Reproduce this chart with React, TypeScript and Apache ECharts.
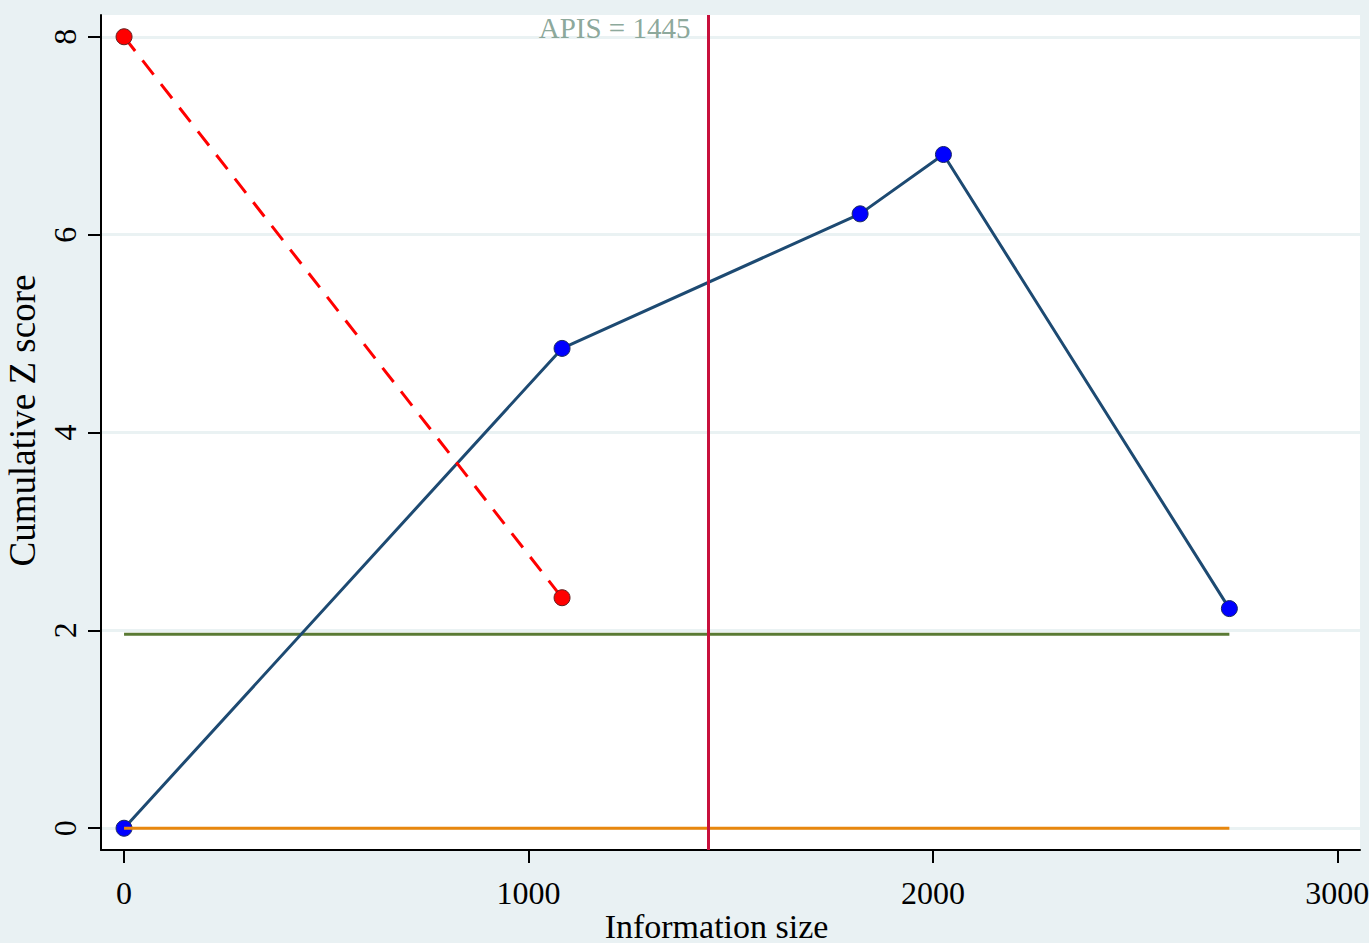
import React, { useEffect, useRef } from "react";
import * as echarts from "echarts";

const xTicks = [0, 1000, 2000, 3000];
const yTicks = [0, 2, 4, 6, 8];
const infoSize = [0, 1083, 1820, 2026, 2733];
const cumZ = [0, 4.85, 6.21, 6.81, 2.22];
const redInfo = [0, 1083];
const redZ = [8, 2.33];
const boundaryZ = 1.96;
const nullZ = 0;
const boundaryEnd = 2733;
const apis = 1445;
const apisLabel = "APIS = 1445";

const X_MIN = -57;
const X_MAX = 3056;
const Y_MIN = -0.22;
const Y_MAX = 8.22;

const FONT = "Liberation Serif";

export default function App() {
  const ref = useRef<HTMLDivElement>(null);
  useEffect(() => {
    if (!ref.current) return;
    const chart = echarts.init(ref.current, undefined, { renderer: "svg" });
    const option: any = {
      animation: false,
      backgroundColor: "#e9f1f3",
      textStyle: { fontFamily: FONT },
      grid: {
        left: 101,
        top: 15,
        right: 9,
        bottom: 93,
        show: true,
        backgroundColor: "#ffffff",
        borderWidth: 0,
        containLabel: false,
        outerBoundsMode: "none",
      },
      xAxis: {
        type: "value",
        min: X_MIN,
        max: X_MAX,
        name: "Information size",
        nameLocation: "middle",
        nameGap: 62,
        nameMoveOverlap: false,
        nameTextStyle: {
          fontFamily: FONT,
          fontSize: 34,
          lineHeight: 28,
          color: "#000",
          padding: [0, 28, 0, 0],
        },
        axisLine: { show: true, onZero: false, lineStyle: { color: "#000", width: 2 } },
        axisTick: { show: true, length: 13, lineStyle: { color: "#000", width: 2 }, customValues: xTicks },
        axisLabel: {
          show: true,
          margin: 27,
          fontFamily: FONT,
          fontStyle: "normal",
          fontWeight: "normal",
          fontSize: 32,
          color: "#000",
          customValues: xTicks,
          formatter: (v: number) => String(v),
        },
        splitLine: { show: false },
      },
      yAxis: {
        type: "value",
        min: Y_MIN,
        max: Y_MAX,
        name: "Cumulative Z score",
        nameLocation: "middle",
        nameRotate: 90,
        nameGap: 58,
        nameTextStyle: {
          fontFamily: FONT,
          fontSize: 37,
          color: "#000",
          padding: [0, 0, 0, 24],
        },
        axisLine: { show: true, onZero: false, lineStyle: { color: "#000", width: 2 } },
        axisTick: { show: true, length: 13, lineStyle: { color: "#000", width: 2 }, customValues: yTicks },
        axisLabel: {
          show: true,
          rotate: 90,
          margin: 20,
          fontFamily: FONT,
          fontStyle: "normal",
          fontWeight: "normal",
          fontSize: 32,
          color: "#000",
          customValues: yTicks,
          formatter: (v: number) => String(v),
        },
        splitLine: { show: false },
      },
      series: [
        {
          type: "line",
          data: [],
          silent: true,
          markLine: {
            silent: true,
            z: 0,
            symbol: "none",
            label: { show: false },
            lineStyle: { color: "#eaf2f3", width: 3, type: "solid" },
            data: yTicks.map((v) => ({ yAxis: v })),
          },
          z: 0,
        },
        {
          type: "line",
          data: [[0, boundaryZ], [boundaryEnd, boundaryZ]],
          showSymbol: false,
          lineStyle: { color: "#5a7a34", width: 3 },
          z: 2,
        },
        {
          type: "line",
          data: [[0, nullZ], [boundaryEnd, nullZ]],
          showSymbol: false,
          lineStyle: { color: "#e8870e", width: 3 },
          z: 4,
        },
        {
          type: "line",
          data: infoSize.map((x, i) => [x, cumZ[i]]),
          symbol: "circle",
          symbolSize: 16,
          itemStyle: { color: "#0000ff", borderColor: "#1a2a60", borderWidth: 1 },
          lineStyle: { color: "#1d4a72", width: 3 },
          z: 3,
        },
        {
          type: "line",
          data: redInfo.map((x, i) => [x, redZ[i]]),
          symbol: "circle",
          symbolSize: 16,
          itemStyle: { color: "#ff0000", borderColor: "#602020", borderWidth: 1 },
          lineStyle: { color: "#ff0000", width: 3, type: [18, 12] },
          z: 3,
        },
        {
          type: "line",
          data: [],
          markLine: {
            silent: true,
            z: 6,
            symbol: "none",
            label: { show: false },
            lineStyle: { color: "#c8103c", width: 3, type: "solid" },
            data: [{ xAxis: apis }],
          },
          z: 6,
        },
        {
          type: "scatter",
          data: [[apis, 8.09]],
          symbolSize: 0,
          silent: true,
          label: {
            show: true,
            position: "left",
            distance: 18,
            formatter: apisLabel,
            fontFamily: FONT,
            fontSize: 29,
            color: "#6e9181",
          },
          z: 7,
        },
      ],
    };
    chart.setOption(option);
    return () => chart.dispose();
  }, []);
  return (
    <div
      ref={ref}
      style={{ position: "absolute", left: 0, top: 0, width: 1369, height: 943 }}
    />
  );
}
